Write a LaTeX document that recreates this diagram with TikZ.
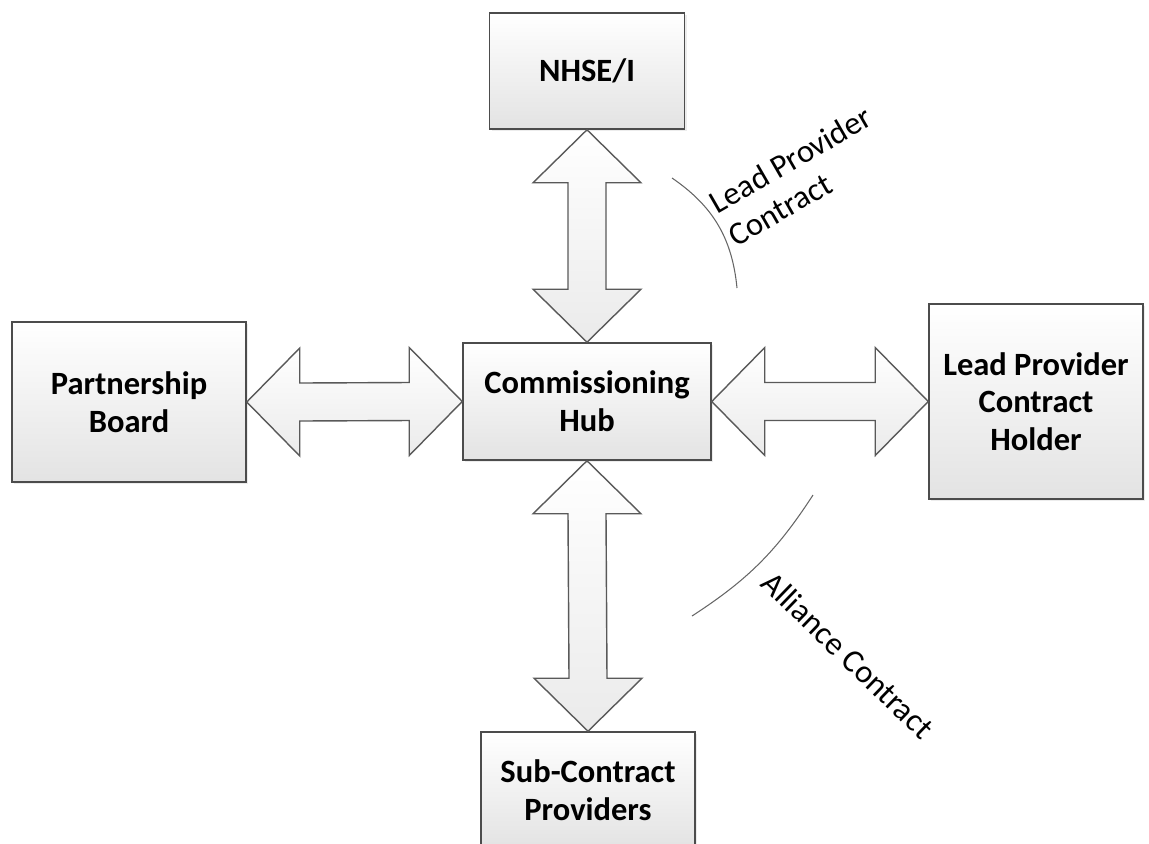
\documentclass[tikz,border=0pt]{standalone}
\usepackage{fontspec}
\setmainfont{Carlito}
\usetikzlibrary{calc,shadows}
\tikzset{
  box/.style={draw=black!70, line width=0.9pt, top color=white, bottom color=black!11,
    align=center, font=\bfseries\fontsize{18.5}{21.5}\selectfont,
    drop shadow={shadow xshift=1.2pt, shadow yshift=-1.2pt, opacity=0.15}},
  blockarrow/.style={draw=black!65, line width=0.8pt, top color=white, bottom color=black!8},
  contract/.style={draw=black!60, line width=0.6pt},
  contractlabel/.style={font=\fontsize{18.5}{21.5}\selectfont, align=left, inner sep=0pt}
}
% double block arrows: #1 upper/left node, #2 lower/right node
\newcommand\vdblarrow[2]{%
  \draw[blockarrow] (#1.south) -- ++(54,-53) -- ++(-35,0) -- ($(#2.north)+(19,53)$)
    -- ++(35,0) -- (#2.north) -- ++(-54,53) -- ++(35,0) -- ($(#1.south)+(-19,-53)$)
    -- ++(-35,0) -- cycle;}
\newcommand\hdblarrow[2]{%
  \draw[blockarrow] (#1.east) -- ++(53,54) -- ++(0,-35) -- ($(#2.west)+(-53,19)$)
    -- ++(0,35) -- (#2.west) -- ++(-53,-54) -- ++(0,35) -- ($(#1.east)+(53,-19)$)
    -- ++(0,-35) -- cycle;}
\begin{document}
\begin{tikzpicture}[x=0.02cm,y=0.02cm]
\useasboundingbox (0,0) rectangle (1149,-843);
\node[box, minimum width=3.9cm, minimum height=2.32cm] (nhse) at (587,-71) {NHSE/I};
\node[box, minimum width=4.68cm, minimum height=3.2cm] (board) at (129,-402) {Partnership\\Board};
\node[box, minimum width=4.96cm, minimum height=2.34cm] (hub) at (587,-401.5) {Commissioning\\Hub};
\node[box, minimum width=4.28cm, minimum height=3.9cm] (holder) at (1036,-401.5) {Lead Provider\\Contract\\Holder};
\node[box, minimum width=4.28cm, minimum height=2.32cm] (sub) at (588,-790) {Sub-Contract\\Providers};
\foreach \a/\b in {nhse/hub, hub/sub} {\vdblarrow{\a}{\b}}
\foreach \a/\b in {board/hub, hub/holder} {\hdblarrow{\a}{\b}}
% contract arcs
\draw[contract] (672,-178) to[bend left=25] (737,-288);
\draw[contract] (813,-495) to[bend left=12] (692,-616);
\node[contractlabel, rotate=30] (leadlabel) at (800,-176) {Lead Provider\\Contract};
\node[contractlabel, rotate=-44] (alliancelabel) at (848,-655) {Alliance Contract};
\end{tikzpicture}
\end{document}
